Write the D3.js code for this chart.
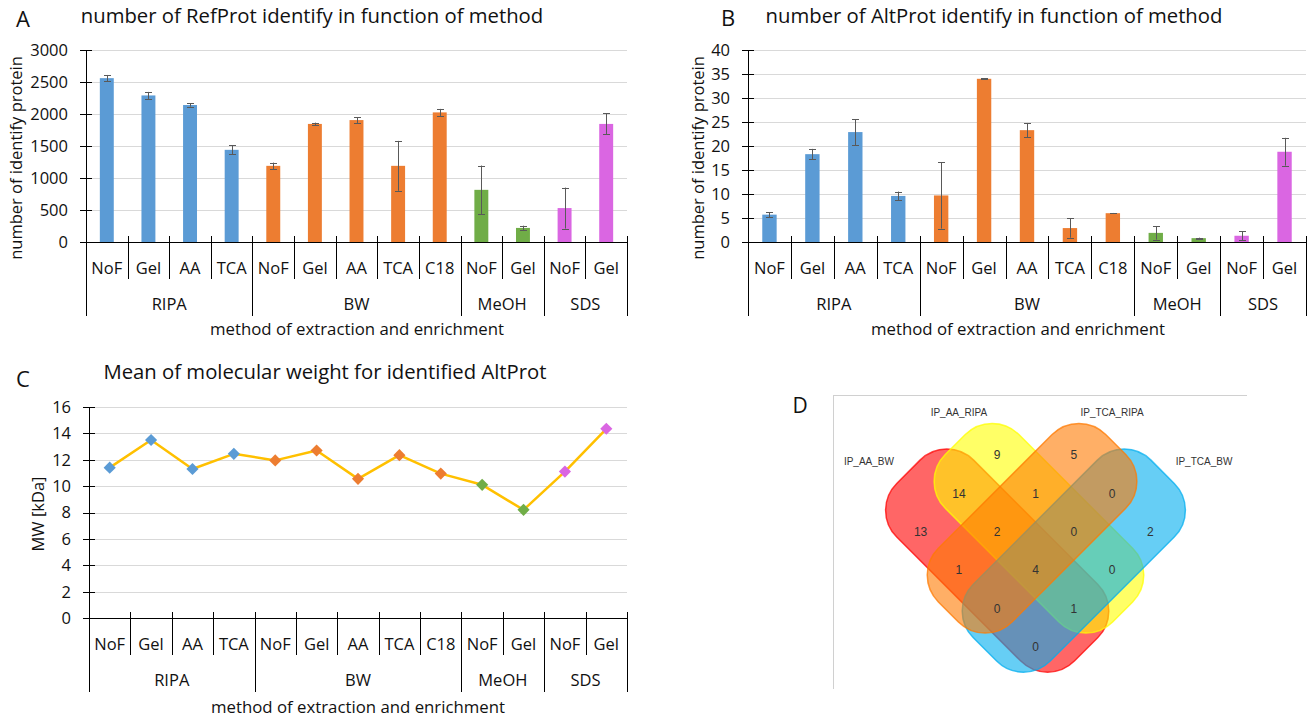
<!DOCTYPE html>
<html>
<head>
<meta charset="utf-8">
<script src="https://cdn.jsdelivr.net/npm/d3@7"></script>
<style>
  html, body { margin: 0; padding: 0; background: #fff; }
  svg { display: block; font-family: "Open Sans", "Noto Sans", sans-serif; }
</style>
</head>
<body>
<script>
// ---------------- DATA ----------------
const catMethod = ["NoF","Gel","AA","TCA","NoF","Gel","AA","TCA","C18","NoF","Gel","NoF","Gel"];
const catExtraction = ["RIPA","RIPA","RIPA","RIPA","BW","BW","BW","BW","BW","MeOH","MeOH","SDS","SDS"];
const refProtMean = [2560, 2290, 2140, 1440, 1190, 1845, 1905, 1190, 2025, 815, 220, 530, 1845];
const refProtErr  = [50, 55, 25, 70, 50, 20, 45, 390, 55, 380, 35, 320, 165];
const refTicks = [0, 500, 1000, 1500, 2000, 2500, 3000];
const altProtMean = [5.7, 18.3, 22.9, 9.6, 9.7, 34.0, 23.3, 2.9, 6.0, 1.9, 0.8, 1.3, 18.8];
const altProtErr  = [0.5, 1.1, 2.7, 0.9, 6.9, 0.1, 1.5, 2.0, 0.05, 1.4, 0.1, 0.9, 2.9];
const altTicks = [0, 5, 10, 15, 20, 25, 30, 35, 40];
const mwMean = [11.4, 13.5, 11.3, 12.45, 11.95, 12.7, 10.55, 12.35, 10.95, 10.1, 8.2, 11.1, 14.35];
const mwTicks = [0, 2, 4, 6, 8, 10, 12, 14, 16];

const vennSetNames = ["IP_AA_BW", "IP_AA_RIPA", "IP_TCA_RIPA", "IP_TCA_BW"];
const vennRegionKeys   = ["a","b","c","d","ab","bc","cd","ac","bd","ad","abc","bcd","acd","abd","abcd"];
const vennRegionCounts = [13, 9, 5, 2, 14, 1, 0, 1, 0, 0, 2, 0, 0, 1, 4];

// ---------------- STYLE / LAYOUT ----------------
const extractionColor = {RIPA: "#5B9BD5", BW: "#ED7D31", MeOH: "#70AD47", SDS: "#DA66E2"};
const textColor = "#111";
const tickFont = 16.5, titleFont = 20.3;

const svg = d3.select("body").append("svg").attr("width", 1310).attr("height", 719);

function crisp(v) { return Math.round(v) + 0.5; }

function categoryAxis(g, x, y0) {
  const n = catMethod.length;
  const bw = x.bandwidth();
  const left = x.range()[0];
  g.append("line").attr("x1", left).attr("x2", x.range()[1])
    .attr("y1", crisp(y0)).attr("y2", crisp(y0)).attr("stroke", "#000").attr("stroke-width", 1);
  for (let i = 0; i <= n; i++) {
    const xb = crisp(left + i * bw);
    const isGroup = i === 0 || i === n || catExtraction[i] !== catExtraction[i - 1];
    g.append("line").attr("x1", xb).attr("x2", xb)
      .attr("y1", y0 - 6).attr("y2", y0 + (isGroup ? 74 : 37))
      .attr("stroke", "#000").attr("stroke-width", 1);
  }
  g.selectAll("text.lvl1").data(catMethod).join("text")
    .attr("class", "lvl1")
    .attr("x", (d, i) => x(i) + bw / 2)
    .attr("y", y0 + 32)
    .attr("text-anchor", "middle")
    .attr("font-size", tickFont).attr("fill", textColor)
    .text(d => d);
  const runs = [];
  catExtraction.forEach((e, i) => {
    if (i === 0 || e !== catExtraction[i - 1]) runs.push({name: e, start: i, end: i});
    else runs[runs.length - 1].end = i;
  });
  g.selectAll("text.lvl2").data(runs).join("text")
    .attr("class", "lvl2")
    .attr("x", d => (x(d.start) + x(d.end) + bw) / 2)
    .attr("y", y0 + 68)
    .attr("text-anchor", "middle")
    .attr("font-size", tickFont).attr("fill", textColor)
    .text(d => d.name);
}

function valueAxis(g, y, ticks, left, right) {
  const top = y(ticks[ticks.length - 1]);
  const bottom = y(0);
  g.selectAll("line.grid").data(ticks.filter(t => t > 0)).join("line")
    .attr("class", "grid")
    .attr("x1", left).attr("x2", right)
    .attr("y1", d => crisp(y(d))).attr("y2", d => crisp(y(d)))
    .attr("stroke", "#D9D9D9").attr("stroke-width", 1);
  g.append("line").attr("x1", crisp(left)).attr("x2", crisp(left))
    .attr("y1", top).attr("y2", bottom).attr("stroke", "#000");
  g.selectAll("line.tick").data(ticks).join("line")
    .attr("class", "tick")
    .attr("x1", left - 6).attr("x2", left + 6)
    .attr("y1", d => crisp(y(d))).attr("y2", d => crisp(y(d)))
    .attr("stroke", "#000");
  g.selectAll("text.tl").data(ticks).join("text")
    .attr("class", "tl")
    .attr("x", left - 18).attr("y", d => y(d)).attr("dy", "0.36em")
    .attr("text-anchor", "end").attr("font-size", tickFont).attr("fill", textColor)
    .text(d => d);
}

function panelTexts(g, cfg) {
  g.append("text").attr("x", cfg.letterX).attr("y", cfg.letterY)
    .attr("font-size", 22).attr("fill", textColor).attr("text-anchor", "middle").text(cfg.letter);
  if (cfg.title) g.append("text").attr("x", cfg.titleX).attr("y", cfg.titleY)
    .attr("font-size", titleFont).attr("fill", textColor).attr("text-anchor", "middle").text(cfg.title);
  if (cfg.yTitle) g.append("text")
    .attr("transform", `translate(${cfg.yTitleX},${cfg.yTitleY}) rotate(-90)`)
    .attr("text-anchor", "middle").attr("dy", "0.35em")
    .attr("font-size", 16.5).attr("fill", textColor).text(cfg.yTitle);
  if (cfg.xTitle) g.append("text").attr("x", cfg.xTitleX).attr("y", cfg.xTitleY)
    .attr("text-anchor", "middle").attr("font-size", 16.8).attr("fill", textColor).text(cfg.xTitle);
}

function barPanel(cfg) {
  const g = svg.append("g");
  const x = d3.scaleBand().domain(d3.range(catMethod.length)).range([cfg.left, cfg.right]);
  const y = d3.scaleLinear().domain([0, cfg.ticks[cfg.ticks.length - 1]]).range([cfg.bottom, cfg.top]);
  valueAxis(g, y, cfg.ticks, cfg.left, cfg.right);
  const barW = x.bandwidth() * 0.335;
  g.selectAll("rect.bar").data(cfg.values).join("rect")
    .attr("class", "bar")
    .attr("x", (d, i) => x(i) + (x.bandwidth() - barW) / 2)
    .attr("width", barW)
    .attr("y", d => y(d))
    .attr("height", d => y(0) - y(d))
    .attr("fill", (d, i) => extractionColor[catExtraction[i]]);
  const eb = g.append("g").attr("stroke", "#595959").attr("stroke-width", 1);
  cfg.values.forEach((v, i) => {
    const cx = crisp(x(i) + x.bandwidth() / 2);
    const e = cfg.errors[i];
    const y1 = y(v + e), y2 = y(v - e);
    eb.append("line").attr("x1", cx).attr("x2", cx).attr("y1", y1).attr("y2", y2);
    eb.append("line").attr("x1", cx - 3.5).attr("x2", cx + 3.5).attr("y1", crisp(y1)).attr("y2", crisp(y1));
    eb.append("line").attr("x1", cx - 3.5).attr("x2", cx + 3.5).attr("y1", crisp(y2)).attr("y2", crisp(y2));
  });
  categoryAxis(g, x, cfg.bottom);
  panelTexts(g, cfg);
}

barPanel({
  left: 86, right: 627, top: 50, bottom: 242, ticks: refTicks,
  values: refProtMean, errors: refProtErr,
  letter: "A", letterX: 23, letterY: 27,
  title: "number of RefProt identify in function of method", titleX: 312, titleY: 23,
  yTitle: "number of identify protein", yTitleX: 16, yTitleY: 158,
  xTitle: "method of extraction and enrichment", xTitleX: 357, xTitleY: 335
});

barPanel({
  left: 748, right: 1306, top: 50, bottom: 242, ticks: altTicks,
  values: altProtMean, errors: altProtErr,
  letter: "B", letterX: 728, letterY: 26,
  title: "number of AltProt identify in function of method", titleX: 994, titleY: 23,
  yTitle: "number of identify protein", yTitleX: 698, yTitleY: 158,
  xTitle: "method of extraction and enrichment", xTitleX: 1018, xTitleY: 335
});

// ---------------- Panel C (line) ----------------
(function () {
  const g = svg.append("g");
  const left = 89, right = 627, top = 407, bottom = 618;
  const x = d3.scaleBand().domain(d3.range(catMethod.length)).range([left, right]);
  const y = d3.scaleLinear().domain([0, 16]).range([bottom, top]);
  valueAxis(g, y, mwTicks, left, right);
  const line = d3.line().x((d, i) => x(i) + x.bandwidth() / 2).y(d => y(d));
  g.append("path").datum(mwMean).attr("d", line)
    .attr("fill", "none").attr("stroke", "#FFC000").attr("stroke-width", 2.5).attr("stroke-linejoin", "round");
  const s = 8.6;
  g.selectAll("rect.mk").data(mwMean).join("rect")
    .attr("class", "mk")
    .attr("x", -s / 2).attr("y", -s / 2).attr("width", s).attr("height", s)
    .attr("transform", (d, i) => `translate(${x(i) + x.bandwidth() / 2},${y(d)}) rotate(45)`)
    .attr("fill", (d, i) => extractionColor[catExtraction[i]]);
  categoryAxis(g, x, bottom);
  panelTexts(g, {
    letter: "C", letterX: 23, letterY: 387,
    title: "Mean of molecular weight for identified AltProt", titleX: 325, titleY: 379,
    yTitle: "MW [kDa]", yTitleX: 38, yTitleY: 514,
    xTitle: "method of extraction and enrichment", xTitleX: 358, xTitleY: 713
  });
})();

// ---------------- Panel D (Venn) ----------------
(function () {
  const g = svg.append("g");
  g.append("text").attr("x", 800).attr("y", 413).attr("text-anchor", "middle")
    .attr("font-size", 21).attr("fill", textColor).text("D");
  g.append("line").attr("x1", 833).attr("x2", 1247).attr("y1", 395.5).attr("y2", 395.5).attr("stroke", "#D0D0D0");
  g.append("line").attr("x1", 833.5).attr("x2", 833.5).attr("y1", 395).attr("y2", 689).attr("stroke", "#D0D0D0");

  const lx = d3.scaleLinear().domain([0, 1]).range([1035.5, 1073.8]);
  const ly = d3.scaleLinear().domain([0, 1]).range([570, 608.3]);
  const unit = lx(1) - lx(0);

  const shapes = [
    {set: 0, cx: -1.0, cy: -0.245, A: 3.28, B: 1.42, r: 0.99, angle: 45,  color: "#FF0000"},
    {set: 1, cx:  0.09, cy: -1.09, A: 3.09, B: 1.36, r: 0.99, angle: 45,  color: "#FFFF00"},
    {set: 3, cx:  1.0, cy: -0.245, A: 3.28, B: 1.42, r: 0.99, angle: -45, color: "#00AEEF"},
    {set: 2, cx: -0.09, cy: -1.09, A: 3.09, B: 1.36, r: 0.99, angle: -45, color: "#FF7A00"}
  ];
  g.selectAll("rect.venn").data(shapes).join("rect")
    .attr("class", "venn")
    .attr("x", d => -d.A * unit).attr("y", d => -d.B * unit)
    .attr("width", d => 2 * d.A * unit).attr("height", d => 2 * d.B * unit)
    .attr("rx", d => d.r * unit).attr("ry", d => d.r * unit)
    .attr("transform", d => `translate(${lx(d.cx)},${ly(d.cy)}) rotate(${d.angle})`)
    .attr("fill", d => d.color).attr("fill-opacity", 0.6)
    .attr("stroke", d => d.color).attr("stroke-opacity", 0.75).attr("stroke-width", 1.5);

  const regionPos = {
    a: [-3, -1], b: [-1, -3], c: [1, -3], d: [3, -1],
    ab: [-2, -2], bc: [0, -2], cd: [2, -2], ac: [-2, 0], bd: [2, 0], ad: [0, 2],
    abc: [-1, -1], bcd: [1, -1], acd: [-1, 1], abd: [1, 1], abcd: [0, 0]
  };
  g.selectAll("text.cnt").data(vennRegionKeys).join("text")
    .attr("class", "cnt")
    .attr("x", k => lx(regionPos[k][0])).attr("y", k => ly(regionPos[k][1]))
    .attr("dy", "0.35em").attr("text-anchor", "middle")
    .attr("font-family", "'Liberation Sans', Arial, sans-serif")
    .attr("font-size", 12).attr("fill", "#333")
    .text((k, i) => vennRegionCounts[i]);

  const namePos = [[-4.35, -2.83], [-2.0, -4.12], [2.0, -4.12], [4.4, -2.83]];
  g.selectAll("text.setname").data(vennSetNames).join("text")
    .attr("class", "setname")
    .attr("x", (d, i) => lx(namePos[i][0])).attr("y", (d, i) => ly(namePos[i][1]))
    .attr("dy", "0.35em").attr("text-anchor", "middle")
    .attr("font-family", "'Liberation Sans', Arial, sans-serif")
    .attr("font-size", 10).attr("fill", "#333")
    .text(d => d);
})();
</script>
</body>
</html>
